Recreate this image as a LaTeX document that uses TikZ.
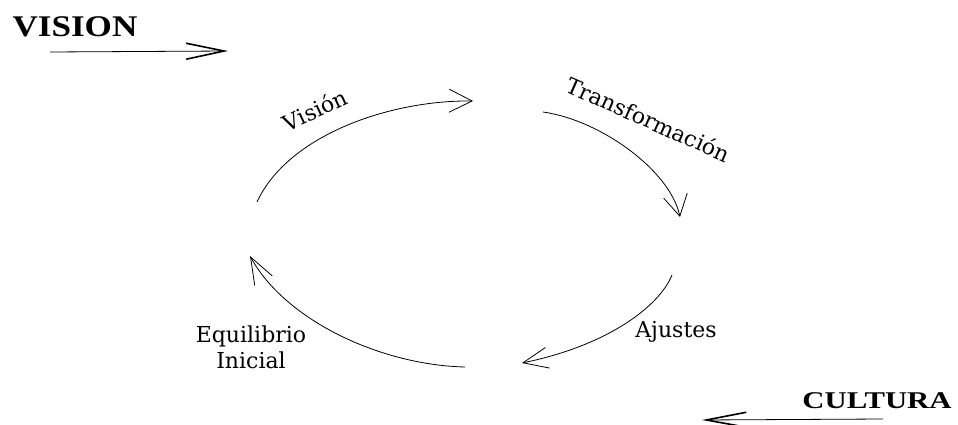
\documentclass[tikz,border=0pt]{standalone}
\usepackage{fontspec}
\setmainfont{DejaVu Serif}
\newfontfamily\titlefont{Liberation Serif}
\usetikzlibrary{arrows.meta}
\tikzset{
  conn/.style={draw=black, line width=0.8pt},
  lbl/.style={font=\fontsize{22}{26}\selectfont, inner sep=0pt},
  ttl/.style={font=\titlefont\bfseries\fontsize{30}{30}\selectfont, inner sep=0pt},
}
\begin{document}
\begin{tikzpicture}[x=1pt,y=-1pt]
\useasboundingbox (0,0) rectangle (958,425);
% titles
\node[ttl, anchor=base, xscale=1.17] (vision) at (75,37) {VISION};
\node[ttl, anchor=base, xscale=1.28, font=\titlefont\bfseries\fontsize{24}{24}\selectfont] (cultura) at (877,408) {CULTURA};
% title arrows
\coordinate (v1) at (50,52);
\coordinate (v2) at (228,51);
\draw[conn, -{Straight Barb[length=38pt,width=16pt,line width=1.6pt]}] (v1) -- (v2);
\coordinate (c1) at (883,419);
\coordinate (c2) at (702,420);
\draw[conn, -{Straight Barb[length=40pt,width=15pt,line width=1.6pt]}] (c1) -- (c2);
% cycle
\coordinate (va) at (257,202);
\coordinate (vb) at (473,101);
\coordinate (ta) at (543,112);
\coordinate (tb) at (680,217);
\coordinate (aa) at (672,275);
\coordinate (ab) at (522,363);
\coordinate (ea) at (465,367);
\coordinate (eb) at (250,256);
\draw[conn, -{Straight Barb[length=23pt,width=23pt]}] (va) .. controls (288,135) and (390,100) .. (vb);
\draw[conn, -{Straight Barb[length=21pt,width=24pt]}] (ta) .. controls (600,120) and (670,170) .. (tb);
\draw[conn, -{Straight Barb[length=25pt,width=21pt]}] (aa) .. controls (660,305) and (610,345) .. (ab);
\draw[conn, -{Straight Barb[length=27pt,width=20pt]}] (ea) .. controls (380,365) and (285,320) .. (eb);
% labels
\node[lbl, anchor=base, rotate=25] (lvision) at (318.5,117.8) {Visión};
\node[lbl, anchor=base, rotate=-24] (ltrans) at (645,127) {Transformación};
\node[lbl, anchor=base] (lajustes) at (676,337) {Ajustes};
\node[lbl, align=center] (lequil) at (251,347) {Equilibrio\\Inicial};
\end{tikzpicture}
\end{document}
